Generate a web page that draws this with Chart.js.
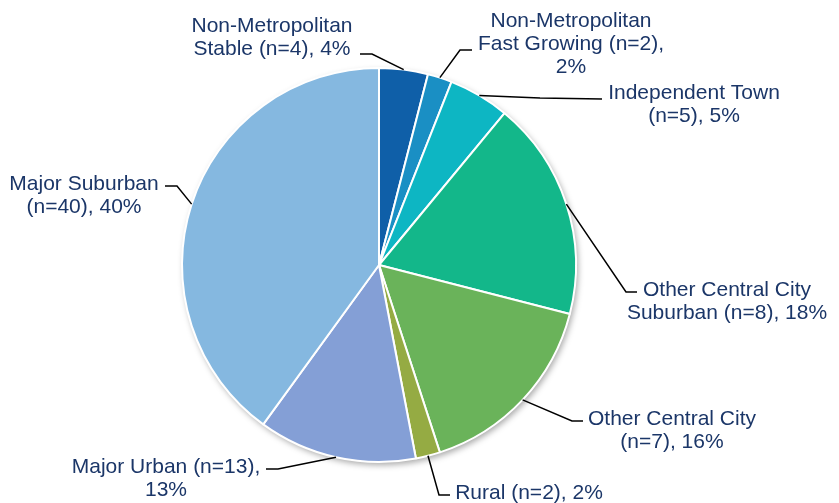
<!DOCTYPE html>
<html>
<head>
<meta charset="utf-8">
<script src="https://cdn.jsdelivr.net/npm/chart.js@4.4.1/dist/chart.umd.min.js"></script>
<style>
  html, body { margin: 0; padding: 0; background: #fff; }
  #wrap { width: 839px; height: 503px; position: relative; }
</style>
</head>
<body>
<div id="wrap"><canvas id="pie"></canvas></div>
<script>
// Catégories et valeurs (en %)
const categories = [
  'Non-Metropolitan Stable',
  'Non-Metropolitan Fast Growing',
  'Independent Town',
  'Other Central City Suburban',
  'Other Central City',
  'Rural',
  'Major Urban',
  'Major Suburban'
];
const counts   = [4, 2, 5, 8, 7, 2, 13, 40];
const percents = [4, 2, 5, 18, 16, 2, 13, 40];
const colors   = ['#0F5FA8', '#1A8FC4', '#0DB6C3', '#13B78A', '#6AB35A', '#95AB43', '#849FD6', '#85B8E0'];

// Texte des étiquettes (lignes)
const labelLines = [
  ['Non-Metropolitan', 'Stable (n=4), 4%'],
  ['Non-Metropolitan', 'Fast Growing (n=2),', '2%'],
  ['Independent Town', '(n=5), 5%'],
  ['Other Central City', 'Suburban (n=8), 18%'],
  ['Other Central City', '(n=7), 16%'],
  ['Rural (n=2), 2%'],
  ['Major Urban (n=13),', '13%'],
  ['Major Suburban', '(n=40), 40%']
];

// Mise en page des étiquettes : centre x, baseline 1re ligne, coude et fin du trait
const labelLayout = [
  { x: 272, y: 32,  elbow: [372, 54],  end: [360, 54] },
  { x: 571, y: 27,  elbow: [460, 50],  end: [472, 50] },
  { x: 694, y: 99,  elbow: [540, 98],  end: [602, 99] },
  { x: 727, y: 296, elbow: [626, 292], end: [637, 292] },
  { x: 672, y: 425, elbow: [572, 421], end: [583, 421] },
  { x: 529, y: 499, elbow: [439, 495], end: [450, 495] },
  { x: 166, y: 473, elbow: [278, 469], end: [266, 469] },
  { x: 84,  y: 190, elbow: [177, 186], end: [165, 186] }
];

const LINE_H = 23;
const TEXT_COLOR = '#1B3668';

// Ombre légère sous le camembert
const shadowPlugin = {
  id: 'pieShadow',
  beforeDatasetsDraw(chart) {
    const arc = chart.getDatasetMeta(0).data[0];
    if (!arc) return;
    const { x, y, outerRadius } = arc.getProps(['x', 'y', 'outerRadius'], true);
    const ctx = chart.ctx;
    ctx.save();
    ctx.shadowColor = 'rgba(0,0,0,0.35)';
    ctx.shadowBlur = 6;
    ctx.shadowOffsetX = 2;
    ctx.shadowOffsetY = 3;
    ctx.fillStyle = '#fff';
    ctx.beginPath();
    ctx.arc(x, y, outerRadius, 0, Math.PI * 2);
    ctx.fill();
    ctx.restore();
  }
};

// Étiquettes + traits de rappel
const leaderPlugin = {
  id: 'leaders',
  afterDatasetsDraw(chart) {
    const ctx = chart.ctx;
    const meta = chart.getDatasetMeta(0);
    ctx.save();
    meta.data.forEach((arc, i) => {
      const p = arc.getProps(['x', 'y', 'startAngle', 'endAngle', 'outerRadius'], true);
      const mid = (p.startAngle + p.endAngle) / 2;
      const sx = p.x + Math.cos(mid) * p.outerRadius;
      const sy = p.y + Math.sin(mid) * p.outerRadius;
      const lay = labelLayout[i];

      ctx.strokeStyle = '#000';
      ctx.lineWidth = 1.5;
      ctx.beginPath();
      ctx.moveTo(sx, sy);
      ctx.lineTo(lay.elbow[0], lay.elbow[1]);
      ctx.lineTo(lay.end[0], lay.end[1]);
      ctx.stroke();

      ctx.fillStyle = TEXT_COLOR;
      ctx.font = '21px "Liberation Sans", Arial, sans-serif';
      ctx.textAlign = 'center';
      ctx.textBaseline = 'alphabetic';
      labelLines[i].forEach((line, k) => {
        ctx.fillText(line, lay.x, lay.y + k * LINE_H);
      });
    });
    ctx.restore();
  }
};

new Chart(document.getElementById('pie'), {
  type: 'pie',
  data: {
    labels: categories,
    datasets: [{
      data: percents,
      backgroundColor: colors,
      borderColor: '#fff',
      borderWidth: 2
    }]
  },
  options: {
    responsive: true,
    maintainAspectRatio: false,
    animation: false,
    layout: { padding: { left: 181, right: 262, top: 67, bottom: 40 } },
    plugins: {
      legend: { display: false },
      tooltip: { enabled: false }
    }
  },
  plugins: [shadowPlugin, leaderPlugin]
});
</script>
</body>
</html>
